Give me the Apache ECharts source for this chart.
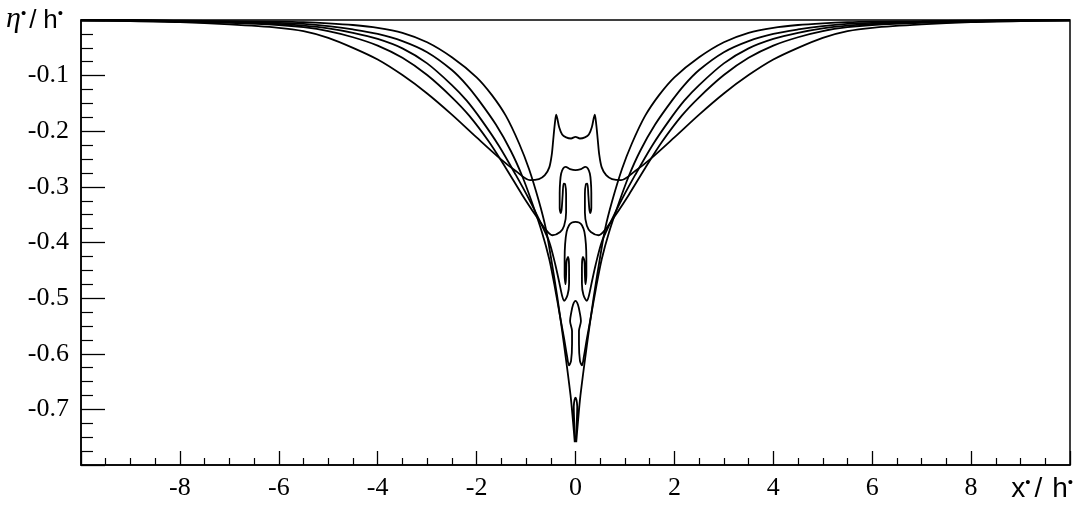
<!DOCTYPE html>
<html>
<head>
<meta charset="utf-8">
<script src="https://cdn.jsdelivr.net/npm/echarts@6/dist/echarts.min.js"></script>
<style>
  html, body { margin: 0; padding: 0; background: #ffffff; }
  #chart { width: 1078px; height: 505px; }
</style>
</head>
<body>
<div id="chart"></div>
<script>
// Free-surface profiles eta*/h* against x*/h*, five successive stages.
// Each profile is an ordered list of [x, eta] points (multivalued near x = 0).

const profileA = [
  [-10, -0.001], [-9, -0.002], [-8, -0.004], [-7, -0.008], [-6, -0.014], [-5.5, -0.020],
  [-5, -0.032], [-4.5, -0.050], [-4, -0.071], [-3.5, -0.099], [-3, -0.132], [-2.5, -0.170],
  [-2, -0.211], [-1.5, -0.251], [-1.2, -0.272], [-0.92, -0.288], [-0.74, -0.286], [-0.62, -0.279],
  [-0.53, -0.265], [-0.48, -0.242], [-0.45, -0.215], [-0.42, -0.188], [-0.39, -0.170],
  [-0.33, -0.193], [-0.27, -0.206], [-0.19, -0.211], [-0.09, -0.213], [0, -0.210],
  [0.09, -0.213], [0.19, -0.211], [0.27, -0.206], [0.33, -0.193], [0.39, -0.170],
  [0.42, -0.188], [0.45, -0.215], [0.48, -0.242], [0.53, -0.265], [0.62, -0.279],
  [0.74, -0.286], [0.92, -0.288], [1.2, -0.272], [1.5, -0.251], [2, -0.211], [2.5, -0.170],
  [3, -0.132], [3.5, -0.099], [4, -0.071], [4.5, -0.050], [5, -0.032], [5.5, -0.020],
  [6, -0.014], [7, -0.008], [8, -0.004], [9, -0.002], [10, -0.001]
];

const profileB = [
  [-10, -0.001], [-9, -0.001], [-8, -0.003], [-7, -0.005], [-6, -0.009], [-5.5, -0.013],
  [-5, -0.020], [-4.5, -0.031], [-4, -0.046], [-3.5, -0.068], [-3, -0.099], [-2.5, -0.139],
  [-2.15, -0.172], [-1.75, -0.219], [-1.41, -0.266], [-1.08, -0.314], [-0.8, -0.352],
  [-0.61, -0.376], [-0.47, -0.387], [-0.31, -0.381], [-0.23, -0.370], [-0.19, -0.346],
  [-0.19, -0.313], [-0.21, -0.295], [-0.24, -0.294], [-0.26, -0.315], [-0.28, -0.340],
  [-0.30, -0.347], [-0.32, -0.338], [-0.32, -0.311], [-0.31, -0.290], [-0.29, -0.276],
  [-0.25, -0.267], [-0.20, -0.264], [-0.11, -0.268], [0, -0.270],
  [0.11, -0.268], [0.20, -0.264], [0.25, -0.267], [0.29, -0.276], [0.31, -0.290],
  [0.32, -0.311], [0.32, -0.338], [0.30, -0.347], [0.28, -0.340], [0.26, -0.315],
  [0.24, -0.294], [0.21, -0.295], [0.19, -0.313], [0.19, -0.346], [0.23, -0.370],
  [0.31, -0.381], [0.47, -0.387], [0.61, -0.376], [0.8, -0.352], [1.08, -0.314],
  [1.41, -0.266], [1.75, -0.219], [2.15, -0.172], [2.5, -0.139], [3, -0.099], [3.5, -0.068],
  [4, -0.046], [4.5, -0.031], [5, -0.020], [5.5, -0.013], [6, -0.009], [7, -0.005],
  [8, -0.003], [9, -0.001], [10, -0.001]
];

const profileC = [
  [-10, 0], [-9, -0.001], [-8, -0.002], [-7, -0.004], [-6, -0.007], [-5.5, -0.010],
  [-5, -0.015], [-4.5, -0.023], [-4, -0.034], [-3.5, -0.051], [-3, -0.078], [-2.5, -0.117],
  [-2.2, -0.145], [-1.9, -0.180], [-1.55, -0.226], [-1.21, -0.278], [-0.94, -0.322],
  [-0.68, -0.369], [-0.53, -0.399], [-0.41, -0.439], [-0.33, -0.471], [-0.27, -0.496],
  [-0.23, -0.505], [-0.16, -0.494], [-0.13, -0.474], [-0.13, -0.444], [-0.15, -0.426],
  [-0.18, -0.433], [-0.19, -0.457], [-0.20, -0.475], [-0.22, -0.459], [-0.22, -0.430],
  [-0.21, -0.403], [-0.18, -0.381], [-0.13, -0.369], [-0.07, -0.364], [0, -0.363],
  [0.07, -0.364], [0.13, -0.369], [0.18, -0.381], [0.21, -0.403], [0.22, -0.430],
  [0.22, -0.459], [0.20, -0.475], [0.19, -0.457], [0.18, -0.433], [0.15, -0.426],
  [0.13, -0.444], [0.13, -0.474], [0.16, -0.494], [0.23, -0.505], [0.27, -0.496],
  [0.33, -0.471], [0.41, -0.439], [0.53, -0.399], [0.68, -0.369], [0.94, -0.322],
  [1.21, -0.278], [1.55, -0.226], [1.9, -0.180], [2.2, -0.145], [2.5, -0.117], [3, -0.078],
  [3.5, -0.051], [4, -0.034], [4.5, -0.023], [5, -0.015], [5.5, -0.010], [6, -0.007],
  [7, -0.004], [8, -0.002], [9, -0.001], [10, 0]
];

const profileD = [
  [-10, 0], [-9, -0.001], [-8, -0.002], [-7, -0.003], [-6, -0.005], [-5.5, -0.007],
  [-5, -0.011], [-4.5, -0.017], [-4, -0.025], [-3.5, -0.038], [-3, -0.058], [-2.5, -0.090],
  [-2.2, -0.117], [-1.95, -0.145], [-1.61, -0.188], [-1.31, -0.235], [-1.08, -0.280],
  [-0.88, -0.328], [-0.68, -0.381], [-0.53, -0.430], [-0.41, -0.484], [-0.31, -0.534],
  [-0.23, -0.573], [-0.17, -0.605], [-0.13, -0.621], [-0.09, -0.613], [-0.07, -0.582],
  [-0.07, -0.559], [-0.11, -0.541], [-0.09, -0.528], [-0.05, -0.512], [0, -0.505],
  [0.05, -0.512], [0.09, -0.528], [0.11, -0.541], [0.07, -0.559], [0.07, -0.582],
  [0.09, -0.613], [0.13, -0.621], [0.17, -0.605], [0.23, -0.573], [0.31, -0.534],
  [0.41, -0.484], [0.53, -0.430], [0.68, -0.381], [0.88, -0.328], [1.08, -0.280],
  [1.31, -0.235], [1.61, -0.188], [1.95, -0.145], [2.2, -0.117], [2.5, -0.090], [3, -0.058],
  [3.5, -0.038], [4, -0.025], [4.5, -0.017], [5, -0.011], [5.5, -0.007], [6, -0.005],
  [7, -0.003], [8, -0.002], [9, -0.001], [10, 0]
];

const profileE = [
  [-10, 0], [-9, 0], [-8, -0.001], [-7, -0.002], [-6, -0.003], [-5.5, -0.004],
  [-5, -0.006], [-4.5, -0.009], [-4, -0.014], [-3.5, -0.023], [-3, -0.040], [-2.5, -0.067],
  [-2, -0.103], [-1.69, -0.135], [-1.41, -0.172], [-1.14, -0.222], [-0.94, -0.268],
  [-0.74, -0.326], [-0.6, -0.375], [-0.5, -0.425], [-0.37, -0.497], [-0.23, -0.585],
  [-0.1, -0.675], [-0.05, -0.722], [-0.015, -0.759], [-0.025, -0.725],
  [-0.035, -0.695], [-0.02, -0.683], [0, -0.679],
  [0.02, -0.683], [0.035, -0.695], [0.025, -0.725], [0.015, -0.759], [0.05, -0.722],
  [0.1, -0.675], [0.23, -0.585], [0.37, -0.497], [0.5, -0.425], [0.6, -0.375],
  [0.74, -0.326], [0.94, -0.268], [1.14, -0.222], [1.41, -0.172], [1.69, -0.135],
  [2, -0.103], [2.5, -0.067], [3, -0.040], [3.5, -0.023], [4, -0.014],
  [4.5, -0.009], [5, -0.006], [5.5, -0.004], [6, -0.003], [7, -0.002], [8, -0.001],
  [9, 0], [10, 0]
];

const profiles = [profileA, profileB, profileC, profileD, profileE];

// Axis ranges and steps
const xRange = [-10, 10];
const xStep = 2;
const yRange = [-0.8, 0];
const yStep = 0.1;

const tickFont = 'Liberation Serif';
const ink = '#000000';

const chart = echarts.init(document.getElementById('chart'), null, { renderer: 'canvas' });

const series = profiles.map(function (pts) {
  return {
    type: 'line',
    data: pts,
    showSymbol: false,
    symbol: 'none',
    smooth: 0.3,
    clip: true,
    lineStyle: { color: ink, width: 1.8 },
    emphasis: { disabled: true },
    animation: false
  };
});

chart.setOption({
  animation: false,
  backgroundColor: '#ffffff',
  grid: {
    left: 81, right: 8, top: 20, bottom: 40,
    show: true, borderColor: ink, borderWidth: 1.5, backgroundColor: 'transparent'
  },
  xAxis: {
    type: 'value',
    min: xRange[0], max: xRange[1], interval: xStep,
    axisLine: { show: true, onZero: false, lineStyle: { color: ink, width: 1.5 } },
    axisTick: { show: true, inside: true, length: 14, lineStyle: { color: ink, width: 1.3 } },
    minorTick: { show: true, splitNumber: 4, length: 7, lineStyle: { color: ink, width: 1.2 } },
    splitLine: { show: false },
    axisLabel: {
      showMinLabel: false, showMaxLabel: false, margin: 10,
      color: ink, fontFamily: tickFont, fontSize: 26,
      formatter: function (v) { return String(v); }
    }
  },
  yAxis: {
    type: 'value',
    min: yRange[0], max: yRange[1], interval: yStep,
    axisLine: { show: true, onZero: false, lineStyle: { color: ink, width: 1.5 } },
    axisTick: { show: true, inside: true, length: 24, lineStyle: { color: ink, width: 1.3 } },
    minorTick: { show: true, splitNumber: 4, length: 12, lineStyle: { color: ink, width: 1.2 } },
    splitLine: { show: false },
    axisLabel: {
      showMinLabel: false, showMaxLabel: false, margin: 12,
      color: ink, fontFamily: tickFont, fontSize: 26,
      formatter: function (v) { return v.toFixed(1); }
    }
  },
  graphic: [
    {
      type: 'text', left: 6, top: 4,
      style: {
        text: '{g|η}{d|•}{s|/}{h|h}{d|•}',
        fill: ink,
        rich: {
          g: { fontFamily: 'Liberation Serif', fontStyle: 'italic', fontSize: 30, lineHeight: 30, verticalAlign: 'bottom' },
          s: { fontFamily: 'Liberation Sans', fontSize: 26, lineHeight: 30, padding: [0, 4, 0, 3], verticalAlign: 'bottom' },
          h: { fontFamily: 'Liberation Sans', fontSize: 26, lineHeight: 30, padding: [0, 0, 0, 3], verticalAlign: 'bottom' },
          d: { fontFamily: 'Liberation Sans', fontSize: 15, lineHeight: 15, padding: [0, 0, 13, 0], verticalAlign: 'bottom' }
        }
      }
    },
    {
      type: 'text', right: 5, top: 475,
      style: {
        text: '{x|x}{d|•}{s|/}{h|h}{d|•}',
        fill: ink,
        rich: {
          x: { fontFamily: 'Liberation Sans', fontSize: 28, lineHeight: 30, verticalAlign: 'bottom' },
          s: { fontFamily: 'Liberation Sans', fontSize: 28, lineHeight: 30, padding: [0, 6, 0, 4], verticalAlign: 'bottom' },
          h: { fontFamily: 'Liberation Sans', fontSize: 28, lineHeight: 30, padding: [0, 0, 0, 4], verticalAlign: 'bottom' },
          d: { fontFamily: 'Liberation Sans', fontSize: 15, lineHeight: 15, padding: [0, 0, 13, 0], verticalAlign: 'bottom' }
        }
      }
    }
  ],
  series: series
});
</script>
</body>
</html>
